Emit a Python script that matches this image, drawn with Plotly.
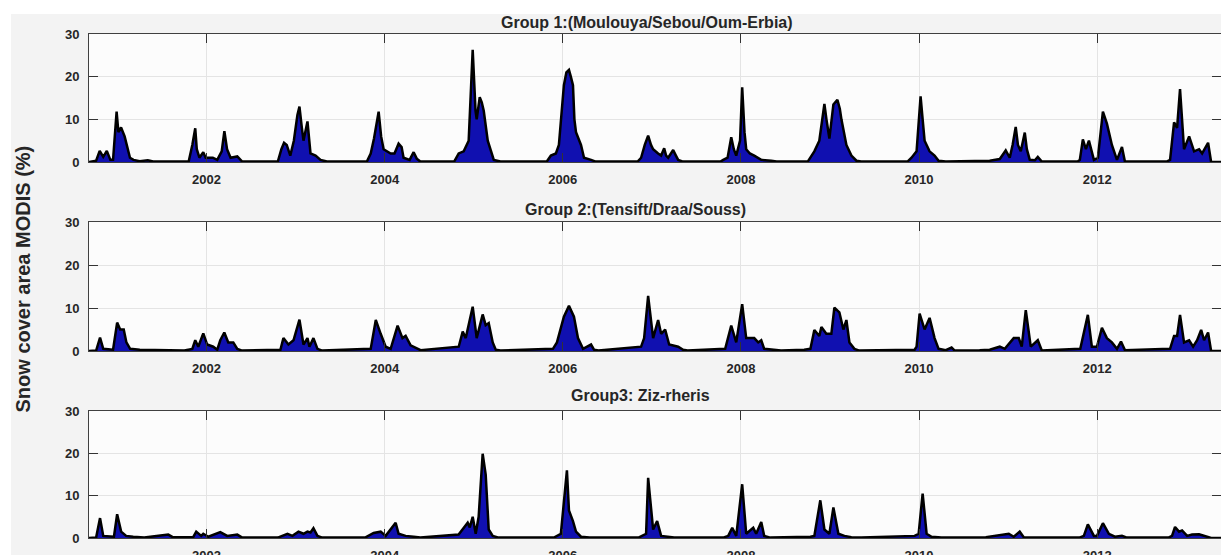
import plotly.graph_objects as go

# ---------------- data (decimal years, snow cover %) ----------------
g1_year = [2000.68, 2000.76, 2000.80, 2000.84, 2000.88, 2000.92, 2000.95, 2000.99, 2001.01, 2001.04, 2001.08, 2001.14, 2001.18, 2001.25, 2001.34, 2001.40, 2001.60,
           2001.80, 2001.84, 2001.873, 2001.89, 2001.92, 2001.963, 2001.99, 2002.07, 2002.12, 2002.17, 2002.20, 2002.23, 2002.27, 2002.345, 2002.40,
           2002.80, 2002.84, 2002.87, 2002.90, 2002.94, 2002.98, 2003.02, 2003.043, 2003.07, 2003.088, 2003.133, 2003.167, 2003.224, 2003.28, 2003.35,
           2003.80, 2003.843, 2003.88, 2003.932, 2003.96, 2003.988, 2004.067, 2004.11, 2004.156, 2004.19, 2004.212, 2004.28, 2004.325, 2004.36, 2004.40,
           2004.78, 2004.831, 2004.887, 2004.943, 2004.988, 2005.02, 2005.033, 2005.067, 2005.09, 2005.112, 2005.157, 2005.191, 2005.225, 2005.30,
           2005.82, 2005.866, 2005.922, 2005.956, 2006.012, 2006.04, 2006.069, 2006.09, 2006.114, 2006.13, 2006.148, 2006.204, 2006.238, 2006.317, 2006.37,
           2006.84, 2006.879, 2006.92, 2006.958, 2006.99, 2007.014, 2007.070, 2007.104, 2007.138, 2007.16, 2007.183, 2007.239, 2007.27, 2007.295, 2007.35,
           2007.77, 2007.801, 2007.85, 2007.891, 2007.92, 2007.947, 2007.99, 2008.014, 2008.04, 2008.059, 2008.10, 2008.149, 2008.228, 2008.340, 2008.40,
           2008.75, 2008.790, 2008.824, 2008.880, 2008.937, 2008.96, 2008.993, 2009.038, 2009.083, 2009.11, 2009.128, 2009.184, 2009.240, 2009.297, 2009.35,
           2009.87, 2009.915, 2009.972, 2010.017, 2010.04, 2010.062, 2010.118, 2010.174, 2010.219, 2010.30,
           2010.793, 2010.906, 2010.973, 2011.018, 2011.05, 2011.085, 2011.11, 2011.142, 2011.187, 2011.21, 2011.243, 2011.30, 2011.333, 2011.378,
           2011.78, 2011.805, 2011.839, 2011.873, 2011.907, 2011.963, 2012.008, 2012.04, 2012.064, 2012.109, 2012.165, 2012.222, 2012.278, 2012.311,
           2012.78, 2012.818, 2012.863, 2012.897, 2012.930, 2012.975, 2013.032, 2013.088, 2013.144, 2013.178, 2013.245, 2013.279, 2013.39]
g1_val = [0, 0.3, 2.6, 1.2, 2.6, 0.5, 0.5, 11.8, 7, 8.1, 6, 1.0, 0.5, 0.2, 0.4, 0.1, 0.1,
          0.2, 4, 7.9, 3, 1.0, 2.3, 1.0, 1.0, 0.5, 2.5, 7.2, 3, 1.0, 1.3, 0.1,
          0.1, 3, 4.5, 4, 1.5, 5, 11, 13, 8, 5, 9.5, 2, 1.5, 0.5, 0.1,
          0.1, 2, 5.5, 11.8, 6, 3, 2, 2, 4.3, 3.5, 1, 0.5, 2.3, 0.8, 0.1,
          0.1, 2, 2.5, 5, 26.3, 12, 10, 15.2, 14, 12, 5, 3, 0.5, 0.1,
          0.1, 1.5, 2, 4, 18, 21, 21.6, 20, 18, 10, 7, 4, 1, 0.5, 0.1,
          0.1, 1, 4, 6.2, 4, 3, 2, 1.5, 3.2, 1.5, 1, 2.8, 1.5, 0.5, 0.1,
          0.1, 0.5, 1, 5.8, 3, 1.5, 5, 17.5, 7, 3, 2, 1.5, 0.5, 0.3, 0.1,
          0.1, 1.5, 2.5, 5, 13.6, 10, 5.5, 13.5, 14.6, 12.5, 10, 4, 1.5, 0.3, 0.1,
          0.1, 1, 2.5, 15.4, 10, 5, 2.5, 1.5, 0.3, 0.1,
          0.3, 0.7, 2.7, 1, 4, 8.2, 4, 2.5, 6.9, 3, 0.5, 0.4, 1.2, 0.1,
          0.1, 0.5, 5.3, 3, 5, 0.5, 1, 7, 11.8, 9, 4, 0.5, 3.5, 0.1,
          0.1, 0.5, 9.3, 8, 17.1, 3, 6, 2.5, 3, 2, 4.5, 0, 0]

g2_year = [2000.68, 2000.76, 2000.804, 2000.84, 2000.95, 2000.98, 2000.996, 2001.03, 2001.07, 2001.10, 2001.142, 2001.25, 2001.50, 2001.75,
           2001.84, 2001.873, 2001.907, 2001.963, 2002.007, 2002.075, 2002.120, 2002.154, 2002.199, 2002.244, 2002.300, 2002.345, 2002.40,
           2002.829, 2002.863, 2002.919, 2002.976, 2003.043, 2003.088, 2003.133, 2003.155, 2003.200, 2003.245, 2003.30,
           2003.843, 2003.90, 2003.955, 2004.011, 2004.067, 2004.145, 2004.20, 2004.235, 2004.291, 2004.347, 2004.403,
           2004.831, 2004.876, 2004.910, 2004.988, 2005.033, 2005.100, 2005.134, 2005.168, 2005.213, 2005.247, 2005.30,
           2005.889, 2005.934, 2006.012, 2006.069, 2006.125, 2006.17, 2006.227, 2006.317, 2006.35, 2006.40,
           2006.879, 2006.913, 2006.958, 2007.014, 2007.070, 2007.104, 2007.149, 2007.194, 2007.295, 2007.351, 2007.40,
           2007.823, 2007.891, 2007.947, 2008.014, 2008.059, 2008.149, 2008.194, 2008.228, 2008.261, 2008.374, 2008.45,
           2008.71, 2008.78, 2008.824, 2008.880, 2008.903, 2008.959, 2009.015, 2009.049, 2009.105, 2009.150, 2009.184, 2009.218, 2009.274, 2009.33,
           2009.95, 2009.972, 2010.006, 2010.062, 2010.118, 2010.174, 2010.219, 2010.30, 2010.365, 2010.40,
           2010.680, 2010.793, 2010.906, 2010.962, 2011.063, 2011.119, 2011.153, 2011.198, 2011.254, 2011.333, 2011.378,
           2011.81, 2011.895, 2011.940, 2011.997, 2012.053, 2012.109, 2012.165, 2012.222, 2012.267, 2012.311,
           2012.818, 2012.863, 2012.897, 2012.930, 2012.975, 2013.032, 2013.077, 2013.122, 2013.167, 2013.200, 2013.245, 2013.279, 2013.39]
g2_val = [0, 0.1, 3.1, 0.5, 0.3, 5, 6.6, 5, 5, 2, 0.5, 0.3, 0.2, 0.1,
          0.5, 2.5, 1, 4.1, 1.5, 1, 0.3, 2.5, 4.3, 2, 2, 0.5, 0.1,
          0.3, 3, 1.5, 2.5, 7.3, 1.5, 3, 1, 3, 0.5, 0.1,
          0.5, 7.2, 4, 1, 0.5, 5.9, 3, 3.5, 1.3, 0.8, 0.2,
          1, 4.5, 3, 10.3, 3, 8.5, 6, 6.5, 2, 0.3, 0.1,
          0.5, 2, 8, 10.5, 8, 3, 0.5, 1.5, 0.3, 0.1,
          1, 3, 12.8, 3, 7.2, 4, 5, 1.5, 1, 0.3, 0.1,
          0.5, 5.9, 2, 10.9, 3, 3, 2, 2.5, 0.5, 0.3, 0.1,
          0.3, 0.5, 4.9, 3.5, 5.6, 4, 4, 10.1, 9, 5, 7.2, 2, 0.5, 0.1,
          0.3, 1, 8.7, 5, 7.7, 3, 0.5, 0.2, 0.8, 0.1,
          0.2, 0.3, 1, 0.5, 3, 3, 1, 9.5, 1, 2.5, 0.1,
          0.5, 8.4, 1, 1, 5.4, 3, 2, 0.5, 2.2, 0.2,
          0.5, 3.5, 3.5, 8.4, 2, 2.5, 1, 2.5, 4.9, 2.5, 4.3, 0, 0]

g3_year = [2000.68, 2000.76, 2000.804, 2000.84, 2000.96, 2000.996, 2001.041, 2001.097, 2001.176, 2001.30, 2001.57, 2001.62,
           2001.85, 2001.884, 2001.940, 2001.963, 2002.020, 2002.154, 2002.232, 2002.345, 2002.40,
           2002.80, 2002.908, 2002.964, 2003.032, 2003.088, 2003.133, 2003.167, 2003.200, 2003.245, 2003.30,
           2003.78, 2003.876, 2003.955, 2004.011, 2004.123, 2004.156, 2004.235, 2004.325, 2004.40,
           2004.83, 2004.932, 2004.955, 2004.988, 2005.022, 2005.055, 2005.100, 2005.134, 2005.168, 2005.213, 2005.28,
           2005.90, 2005.978, 2006.046, 2006.069, 2006.114, 2006.148, 2006.204, 2006.30,
           2006.85, 2006.935, 2006.958, 2007.014, 2007.059, 2007.104, 2007.183, 2007.25,
           2007.80, 2007.857, 2007.902, 2007.947, 2008.014, 2008.059, 2008.138, 2008.171, 2008.228, 2008.261, 2008.33,
           2008.78, 2008.824, 2008.891, 2008.937, 2008.993, 2009.038, 2009.094, 2009.162, 2009.240, 2009.35,
           2009.95, 2009.995, 2010.040, 2010.085, 2010.140, 2010.25,
           2010.75, 2011.007, 2011.063, 2011.130, 2011.175, 2011.30,
           2011.80, 2011.850, 2011.895, 2011.963, 2011.997, 2012.064, 2012.131, 2012.199, 2012.278, 2012.334,
           2012.80, 2012.840, 2012.874, 2012.919, 2012.953, 2013.010, 2013.065, 2013.144, 2013.212, 2013.279, 2013.39]
g3_val = [0, 0.1, 4.7, 0.5, 0.3, 5.6, 1.5, 0.5, 0.3, 0.1, 0.8, 0.2,
          0.2, 1.5, 0.5, 1, 0.3, 1.4, 0.5, 0.8, 0.1,
          0.1, 1, 0.5, 1.5, 1, 1.5, 1.3, 2.3, 0.5, 0.1,
          0.1, 1.2, 1.5, 0.5, 3.6, 1, 0.5, 0.3, 0.1,
          0.8, 3.6, 2.5, 5, 1, 5, 19.9, 15, 2, 0.5, 0.1,
          0.1, 1, 16, 6.5, 4, 1.5, 0.3, 0.1,
          0.1, 1, 14.2, 2, 4, 0.5, 0.3, 0.1,
          0.1, 0.5, 2.4, 0.5, 12.7, 1, 2.4, 1, 3.8, 0.5, 0.1,
          0.3, 0.5, 8.9, 2, 1, 7.2, 1, 0.5, 0.2, 0.1,
          0.5, 1, 10.5, 1, 0.3, 0.1,
          0.2, 1, 0.3, 1.5, 0.2, 0.1,
          0.1, 0.5, 3.2, 0.5, 0.5, 3.5, 1, 0.3, 0.5, 0.1,
          0.1, 0.5, 2.6, 1.5, 1.8, 0.5, 0.8, 0.9, 0.5, 0, 0]

titles = ["Group 1:(Moulouya/Sebou/Oum-Erbia)", "Group 2:(Tensift/Draa/Souss)", "Group3: Ziz-rheris"]
year_ticks = [2002, 2004, 2006, 2008, 2010, 2012]
year_labels = ["2002", "2004", "2006", "2008", "2010", "2012"]
y_ticks = [0, 10, 20, 30]
y_title = "Snow cover area MODIS (%)"

# ---------------- figure ----------------
W, H = 1221, 555
ML, MR, MT, MB = 89, 0, 34, 17
PW, PH = W - ML - MR, H - MT - MB

def py(pix):  # pixel row -> paper y
    return (H - MB - pix) / PH

def px(pix):  # pixel column -> paper x
    return (pix - ML) / PW

panels_pix = [(34, 162), (222, 351), (411, 538)]
title_pos = [(646.5, 22), (635.5, 209), (640, 395)]
series = [(g1_year, g1_val), (g2_year, g2_val), (g3_year, g3_val)]

FONT = "Liberation Sans, Arial, Helvetica, sans-serif"
TXT = "#262626"

fig = go.Figure()
layout = dict(
    width=W, height=H,
    margin=dict(l=ML, r=MR, t=MT, b=MB, pad=0, autoexpand=False),
    paper_bgcolor="#f3f3f3",
    plot_bgcolor="#fcfcfc",
    showlegend=False,
    font=dict(family=FONT, color=TXT),
)

for i, ((yrs, vals), (top, bot)) in enumerate(zip(series, panels_pix)):
    n = "" if i == 0 else str(i + 1)
    fig.add_trace(go.Scatter(
        x=yrs, y=vals, mode="lines", fill="tozeroy",
        fillcolor="#1010b0", line=dict(color="black", width=2.5),
        xaxis="x" + n, yaxis="y" + n, hoverinfo="skip",
    ))
    layout["xaxis" + n] = dict(
        domain=[0, 1], anchor="y" + n, range=[2000.68, 2013.39], automargin=False,
        tickmode="array", tickvals=year_ticks, ticktext=year_labels,
        ticks="inside", ticklen=9, tickwidth=1, tickcolor="#333333",
        showline=True, linecolor="#404040", linewidth=1, mirror="allticks",
        showgrid=True, gridcolor="#e4e4e4", gridwidth=1, zeroline=False,
        tickfont=dict(family=FONT, size=13, color=TXT, weight="bold"),
        ticklabelstandoff=5,
    )
    layout["yaxis" + n] = dict(
        domain=[py(bot), py(top)], anchor="x" + n, range=[0, 30], automargin=False,
        tickmode="array", tickvals=y_ticks,
        ticks="inside", ticklen=9, tickwidth=1, tickcolor="#333333",
        showline=True, linecolor="#404040", linewidth=1, mirror="allticks",
        showgrid=True, gridcolor="#e4e4e4", gridwidth=1, zeroline=False,
        tickfont=dict(family=FONT, size=13, color=TXT, weight="bold"),
        ticklabelstandoff=6,
    )

annotations = []
for t, (cx, cy) in zip(titles, title_pos):
    annotations.append(dict(
        text=t, xref="paper", yref="paper", x=px(cx), y=py(cy),
        xanchor="center", yanchor="middle", showarrow=False,
        font=dict(family=FONT, size=16, color=TXT, weight="bold"),
    ))
annotations.append(dict(
    text=y_title, xref="paper", yref="paper", x=px(22.5), y=py(279),
    xanchor="center", yanchor="middle", textangle=-90, showarrow=False,
    font=dict(family=FONT, size=20, color=TXT, weight="bold"),
))
layout["annotations"] = annotations

# white outer border strips (top and left)
layout["shapes"] = [
    dict(type="rect", xref="paper", yref="paper", x0=px(0), x1=px(W), y0=py(14), y1=py(0),
         fillcolor="white", line=dict(width=0), layer="below"),
    dict(type="rect", xref="paper", yref="paper", x0=px(0), x1=px(11), y0=py(H), y1=py(0),
         fillcolor="white", line=dict(width=0), layer="below"),
]

fig.update_layout(**layout)
fig.write_html(
    "out.html",
    config={"displayModeBar": False, "staticPlot": True},
    post_script="document.body.style.margin='0';document.body.style.overflow='hidden';",
)
